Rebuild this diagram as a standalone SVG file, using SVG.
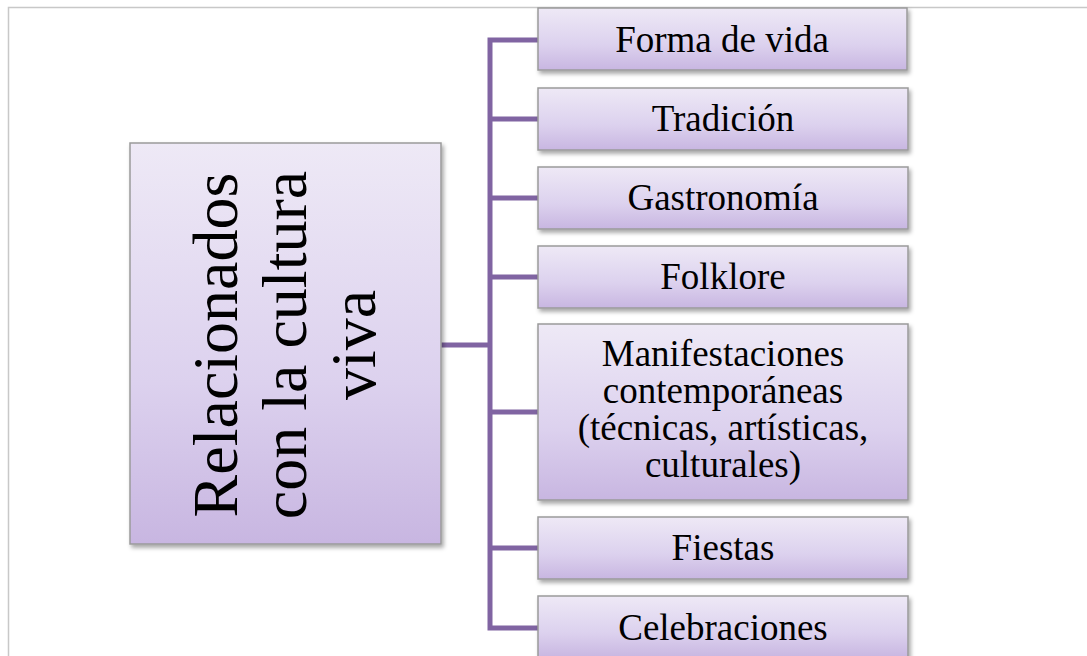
<svg xmlns="http://www.w3.org/2000/svg" width="1087" height="656" viewBox="0 0 1087 656">
<defs>
<linearGradient id="g" x1="0" y1="0" x2="0" y2="1">
<stop offset="0" stop-color="#eee9f6"/>
<stop offset="0.6" stop-color="#dcd1ee"/>
<stop offset="1" stop-color="#c8b6e1"/>
</linearGradient>
<filter id="sh" x="-10%" y="-10%" width="130%" height="140%">
<feDropShadow dx="2" dy="3" stdDeviation="2" flood-color="#000" flood-opacity="0.35"/>
</filter>
</defs>
<style>
.box{fill:url(#g);stroke:#9a9a9a;stroke-width:1.5;filter:url(#sh)}
.t{font-family:"Liberation Serif","Times New Roman",serif;font-size:37px;fill:#000;text-anchor:middle}
.big{font-family:"Liberation Serif","Times New Roman",serif;font-size:64px;fill:#000;text-anchor:middle}
.c{fill:none;stroke:#8064a2;stroke-width:5}
</style>
<rect x="0" y="0" width="1087" height="656" fill="#fff"/>
<rect x="8.5" y="7.5" width="1090" height="660" fill="#fff" stroke="#c8c8c8" stroke-width="1.5"/>
<g id="connectors">
<path class="c" d="M441 345H490M538 40H490V628H538M490 119H538M490 198H538M490 277H538M490 412H538M490 548H538"/>
</g>
<g id="root">
<rect class="box" x="130" y="143" width="311" height="401"/>
<text class="big" transform="translate(237,345) rotate(-90)">Relacionados</text>
<text class="big" transform="translate(306,345) rotate(-90)">con la cultura</text>
<text class="big" transform="translate(375,345) rotate(-90)">viva</text>
</g>
<g id="n1">
<rect class="box" x="538" y="8" width="369" height="62"/>
<text class="t" x="722" y="52">Forma de vida</text>
</g>
<g id="n2">
<rect class="box" x="538" y="88" width="370" height="62"/>
<text class="t" x="723" y="131">Tradición</text>
</g>
<g id="n3">
<rect class="box" x="538" y="167" width="370" height="62"/>
<text class="t" x="723" y="210">Gastronomía</text>
</g>
<g id="n4">
<rect class="box" x="538" y="246" width="370" height="62"/>
<text class="t" x="723" y="289">Folklore</text>
</g>
<g id="n5">
<rect class="box" x="538" y="324" width="370" height="176"/>
<text class="t"><tspan x="723" y="366">Manifestaciones</tspan><tspan x="723" y="403">contemporáneas</tspan><tspan x="723" y="440">(técnicas, artísticas,</tspan><tspan x="723" y="477">culturales)</tspan></text>
</g>
<g id="n6">
<rect class="box" x="538" y="517" width="370" height="62"/>
<text class="t" x="723" y="560">Fiestas</text>
</g>
<g id="n7">
<rect class="box" x="538" y="596" width="370" height="62"/>
<text class="t" x="723" y="640">Celebraciones</text>
</g>
</svg>
